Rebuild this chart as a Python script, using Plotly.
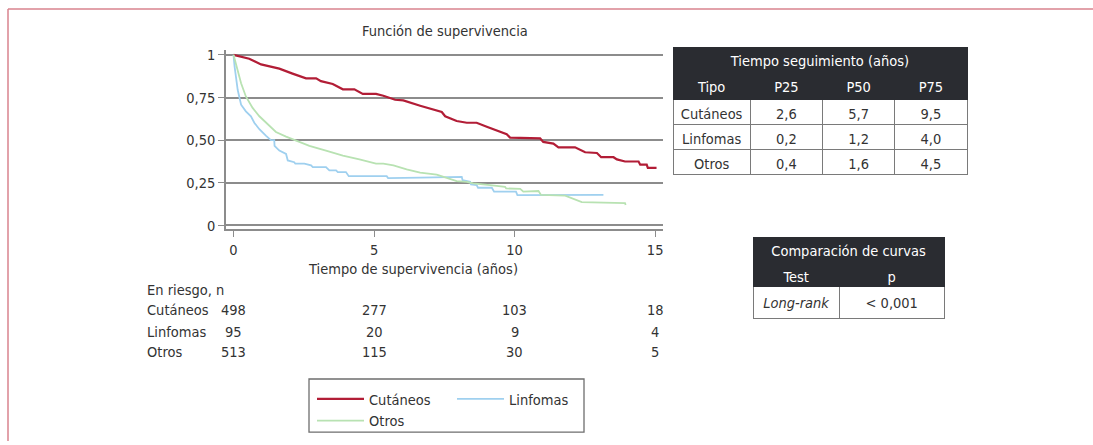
import plotly.graph_objects as go

# ---------------------------------------------------------------------------
# Data
# ---------------------------------------------------------------------------
cut_t = [0.0, 0.56, 0.98, 1.63, 2.1, 2.58, 2.94, 3.11, 3.53, 3.89, 4.3, 4.6, 5.07,
         5.33, 5.75, 6.04, 6.64, 7.41, 7.53, 7.94, 8.3, 8.65, 9.01, 9.48, 9.72,
         9.84, 10.2, 10.91, 11.02, 11.38, 11.56, 12.15, 12.51, 12.93, 13.08,
         13.52, 13.64, 13.93, 14.41, 14.47, 14.7, 14.74, 15.05]
cut_s = [1.0, 0.977, 0.944, 0.919, 0.89, 0.862, 0.862, 0.846, 0.829, 0.798, 0.798,
         0.771, 0.771, 0.76, 0.737, 0.733, 0.702, 0.665, 0.64, 0.612, 0.602,
         0.602, 0.579, 0.548, 0.535, 0.515, 0.512, 0.51, 0.49, 0.48, 0.458,
         0.458, 0.429, 0.425, 0.4, 0.4, 0.387, 0.375, 0.375, 0.356, 0.356,
         0.337, 0.337]

lin_t = [0.0, 0.04, 0.15, 0.27, 0.44, 0.62, 0.74, 0.92, 1.16, 1.33, 1.45, 1.46,
         1.63, 1.87, 1.93, 2.16, 2.2, 2.52, 2.76, 2.82, 3.29, 3.41, 3.65, 3.71,
         4.0, 4.1, 5.45, 5.5, 6.64, 8.12, 8.15, 8.42, 8.45, 8.65, 8.7, 9.19,
         9.27, 10.05, 10.1, 13.16]
lin_s = [1.0, 0.929, 0.794, 0.708, 0.669, 0.64, 0.602, 0.564, 0.525, 0.5, 0.5,
         0.467, 0.439, 0.419, 0.381, 0.371, 0.362, 0.362, 0.352, 0.342, 0.342,
         0.323, 0.323, 0.313, 0.313, 0.289, 0.289, 0.278, 0.28, 0.285, 0.265,
         0.256, 0.24, 0.237, 0.221, 0.221, 0.198, 0.198, 0.178, 0.179]

otr_t = [0.0, 0.15, 0.27, 0.44, 0.68, 0.92, 1.22, 1.51, 1.87, 2.28, 2.7, 3.29,
         3.89, 4.48, 5.07, 5.33, 5.69, 6.16, 6.64, 7.23, 7.59, 7.94, 8.3, 8.53,
         9.13, 9.66, 9.7, 10.2, 10.31, 10.85, 10.94, 11.8, 12.39, 13.93, 13.95]
otr_s = [1.0, 0.91, 0.833, 0.756, 0.689, 0.64, 0.593, 0.548, 0.521, 0.496,
         0.467, 0.439, 0.41, 0.387, 0.362, 0.362, 0.352, 0.329, 0.31, 0.298,
         0.279, 0.26, 0.256, 0.246, 0.237, 0.227, 0.217, 0.214, 0.198, 0.202,
         0.179, 0.175, 0.137, 0.131, 0.12]

x_ticks = [0, 5, 10, 15]
y_ticks = [0, 0.25, 0.5, 0.75, 1]
y_ticktext = ["0", "0,25", "0,50", "0,75", "1"]

risk_times = [0, 5, 10, 15]
risk_groups = ["Cutáneos", "Linfomas", "Otros"]
risk_cut = [498, 277, 103, 18]
risk_lin = [95, 20, 9, 4]
risk_otr = [513, 115, 30, 5]

seg_cols = ["Tipo", "P25", "P50", "P75"]
seg_tipo = ["Cutáneos", "Linfomas", "Otros"]
seg_p25 = ["2,6", "0,2", "0,4"]
seg_p50 = ["5,7", "1,2", "1,6"]
seg_p75 = ["9,5", "4,0", "4,5"]

cmp_cols = ["Test", "p"]
cmp_test = ["<i>Long-rank</i>"]
cmp_p = ["< 0,001"]

# ---------------------------------------------------------------------------
W, H = 1093, 445
FONT = "Liberation Sans Narrow, DejaVu Sans Condensed, Arial Narrow, sans-serif"
FS = 14.5
TXT = "#333333"
DARK = "#2a2c31"
GRID = "#8c8c8c"


def px_x(p):
    return p / W


def px_y(p):
    return 1 - p / H


fig = go.Figure()

fig.add_trace(go.Scatter(x=cut_t, y=cut_s, mode='lines', name='Cutáneos',
                         line=dict(color='#b21d36', width=2.2), legend='legend'))
fig.add_trace(go.Scatter(x=lin_t, y=lin_s, mode='lines', name='Linfomas',
                         line=dict(color='#9fd0ef', width=1.8), legend='legend2'))
fig.add_trace(go.Scatter(x=otr_t, y=otr_s, mode='lines', name='Otros',
                         line=dict(color='#b8e2b2', width=1.8), legend='legend'))

# follow-up table: title row + body
fig.add_trace(go.Table(
    domain=dict(x=[px_x(673), px_x(967)], y=[px_y(71), px_y(45)]),
    header=dict(values=["Tiempo seguimiento (años)"], fill_color=DARK, line_color=DARK,
                font=dict(family=FONT, size=FS, color='white'), height=26, align='center'),
    cells=dict(values=[[]])
))
fig.add_trace(go.Table(
    domain=dict(x=[px_x(673), px_x(967)], y=[px_y(190), px_y(71)]),
    columnwidth=[77, 72, 72, 72],
    header=dict(values=seg_cols, fill_color=DARK, line_color=DARK,
                font=dict(family=FONT, size=FS, color='white'), height=27, align='center'),
    cells=dict(values=[seg_tipo, seg_p25, seg_p50, seg_p75], fill_color='white',
               line_color='#7a7a7a', font=dict(family=FONT, size=FS, color=TXT),
               height=25, align='center')
))

# curve comparison table
fig.add_trace(go.Table(
    domain=dict(x=[px_x(753), px_x(944)], y=[px_y(264), px_y(238)]),
    header=dict(values=["Comparación de curvas"], fill_color=DARK, line_color=DARK,
                font=dict(family=FONT, size=FS, color='white'), height=26, align='center'),
    cells=dict(values=[[]])
))
fig.add_trace(go.Table(
    domain=dict(x=[px_x(753), px_x(944)], y=[px_y(330), px_y(264)]),
    columnwidth=[86, 104],
    header=dict(values=cmp_cols, fill_color=DARK, line_color=DARK,
                font=dict(family=FONT, size=FS, color='white'), height=24, align='center'),
    cells=dict(values=[cmp_test, cmp_p], fill_color='white', line_color='#7a7a7a',
               font=dict(family=FONT, size=FS, color=TXT), height=22, align='center')
))


def note(text, x, y, xanchor='center', xref='paper'):
    return dict(text=text, x=x, y=px_y(y), xref=xref, yref='paper', xanchor=xanchor,
                yanchor='middle', showarrow=False, font=dict(size=FS))


annotations = [
    note("Función de supervivencia", px_x(445), 28),
    note("Tiempo de supervivencia (años)", px_x(413), 270),
    note("En riesgo, n", px_x(145), 292, xanchor='left'),
]
risk_rows = [risk_cut, risk_lin, risk_otr]
row_y = [312, 334, 355]
for name, vals, ry in zip(risk_groups, risk_rows, row_y):
    annotations.append(note(name, px_x(145), ry, xanchor='left'))
    for t, v in zip(risk_times, vals):
        annotations.append(note(str(v), t, ry, xref='x'))

shapes = [
    # outer frame (top and left)
    dict(type='line', xref='paper', yref='paper', x0=px_x(8), x1=1, y0=px_y(6), y1=px_y(6),
         line=dict(color='#d9838e', width=1.5)),
    dict(type='line', xref='paper', yref='paper', x0=px_x(8), x1=px_x(8), y0=0, y1=px_y(6),
         line=dict(color='#d9838e', width=1.5)),
    # legend box
    dict(type='rect', xref='paper', yref='paper', x0=px_x(309), x1=px_x(584),
         y0=px_y(436), y1=px_y(382), line=dict(color='#6e6e6e', width=1.3)),
]

fig.update_layout(
    width=W, height=H,
    margin=dict(l=0, r=0, t=0, b=0),
    paper_bgcolor='white', plot_bgcolor='white',
    font=dict(family=FONT, size=FS, color=TXT),
    xaxis=dict(domain=[px_x(226), px_x(663)], range=[-0.267, 15.28],
               tickvals=x_ticks, ticks='outside', ticklen=6, tickcolor=GRID,
               showline=True, linecolor=GRID, linewidth=1.5, showgrid=False,
               zeroline=False, tickfont=dict(size=FS)),
    yaxis=dict(domain=[px_y(230), px_y(48)], range=[-0.023, 1.027],
               tickvals=y_ticks, ticktext=y_ticktext, ticks='outside', ticklen=6,
               tickcolor=GRID, showline=True, linecolor=GRID, linewidth=1.5,
               showgrid=True, gridcolor=GRID, gridwidth=1.5, zeroline=False,
               tickfont=dict(size=FS)),
    legend=dict(x=px_x(312), y=px_y(386), xanchor='left', yanchor='top', itemwidth=47,
                bgcolor='rgba(0,0,0,0)', font=dict(size=FS), tracegroupgap=0),
    legend2=dict(x=px_x(452), y=px_y(386), xanchor='left', yanchor='top', itemwidth=47,
                 bgcolor='rgba(0,0,0,0)', font=dict(size=FS)),
    annotations=annotations,
    shapes=shapes,
)

fig.write_html("out.html", config={'displayModeBar': False},
               post_script="document.body.style.margin='0';")
